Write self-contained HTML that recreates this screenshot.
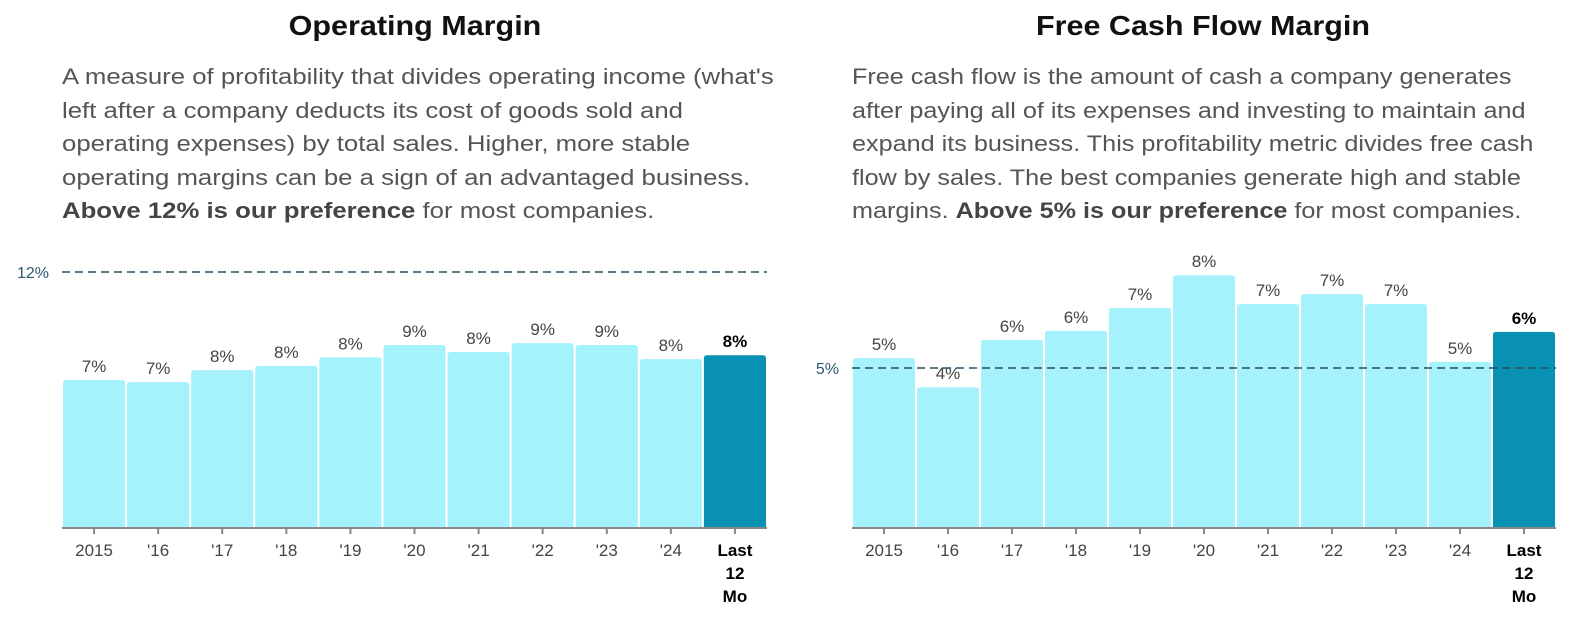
<!DOCTYPE html>
<html><head><meta charset="utf-8"><style>
body{margin:0;background:#fff;width:1569px;height:618px;overflow:hidden;font-family:"Liberation Sans",sans-serif;}
.title{position:absolute;top:10px;font-size:28px;font-weight:bold;color:#111;text-align:center;width:720px;transform:scaleX(1.09);}
.desc{position:absolute;top:60px;font-size:22px;line-height:33.5px;color:#555;white-space:nowrap;transform:scaleX(1.17);transform-origin:0 0;}
.desc b{color:#444;}
svg{position:absolute;left:0;top:0;}
</style></head><body>
<div class="title" style="left:55px">Operating Margin</div>
<div class="desc" style="left:62px">A measure of profitability that divides operating income (what's<br>left after a company deducts its cost of goods sold and<br>operating expenses) by total sales. Higher, more stable<br>operating margins can be a sign of an advantaged business.<br><b>Above 12% is our preference</b> for most companies.</div>
<div class="title" style="left:843px">Free Cash Flow Margin</div>
<div class="desc" style="left:852px;transform:scaleX(1.145)">Free cash flow is the amount of cash a company generates<br>after paying all of its expenses and investing to maintain and<br>expand its business. This profitability metric divides free cash<br>flow by sales. The best companies generate high and stable<br>margins. <b>Above 5% is our preference</b> for most companies.</div>
<svg id="chart" width="1569" height="618"></svg>
<script>
const categories=["2015","'16","'17","'18","'19","'20","'21","'22","'23","'24","Last 12 Mo"];
const opValues=[6.94,6.84,7.4,7.6,8.0,8.58,8.25,8.67,8.58,7.92,8.1];
const opLabels=["7%","7%","8%","8%","8%","9%","8%","9%","9%","8%","8%"];
const fcfValues=[5.31,4.4,5.88,6.16,6.88,7.9,7.0,7.31,7.0,5.19,6.13];
const fcfLabels=["5%","4%","6%","6%","7%","8%","7%","7%","7%","5%","6%"];
const opThreshold=12, fcfThreshold=5;
const NS="http://www.w3.org/2000/svg";
const svg=document.getElementById('chart');
function mk(t,a,p){const e=document.createElementNS(NS,t);for(const k in a)e.setAttribute(k,a[k]);(p||svg).appendChild(e);return e;}
function draw(x0,x1,vals,labels,thr,pxPer,prefix){
  const base=528,n=vals.length,w=(x1-x0)/n;
  const y=v=>base-v*pxPer;
  vals.forEach((v,i)=>{
    const last=i===n-1;
    const r=mk('path',{d:`M${x0+i*w+1} ${base}V${y(v)+3}q0 -3 3 -3H${x0+(i+1)*w-4}q3 0 3 3V${base}Z`,fill:last?'#0891b2':'#a5f1fc'});
    
    
    const cx=x0+(i+0.5)*w;
    const t=mk('text',{x:cx,y:y(v)-8,'text-anchor':'middle','font-size':'17','fill':last?'#000':'#444','font-weight':last?'bold':'normal'});
    t.textContent=labels[i];
    
    
    mk('line',{x1:cx,x2:cx,y1:base,y2:base+6,stroke:'#888','stroke-width':2});
    const parts=last?['Last','12','Mo']:[categories[i]];
    parts.forEach((p,j)=>{const tt=mk('text',{x:cx,y:base+28+j*23,'text-anchor':'middle','font-size':'17',fill:last?'#000':'#444','font-weight':last?'bold':'normal'});tt.textContent=p;
      
      });
  });
  const ax=mk('line',{x1:x0,x2:x1,y1:base,y2:base,stroke:'#888','stroke-width':2});
  
  
  const dl=mk('line',{x1:x0,x2:x1,y1:y(thr),y2:y(thr),stroke:'#264f60','stroke-width':1.5,'stroke-dasharray':'8 5'});
  
  
  const tl=mk('text',{x:x0-13,y:y(thr)+6,'text-anchor':'end','font-size':'16',fill:'#2d5b6e'});
  tl.textContent=thr+'%';
  
  
}
draw(62,767,opValues,opLabels,opThreshold,21.33,'op');
draw(852,1556,fcfValues,fcfLabels,fcfThreshold,32,'fcf');
</script>
</body></html>
